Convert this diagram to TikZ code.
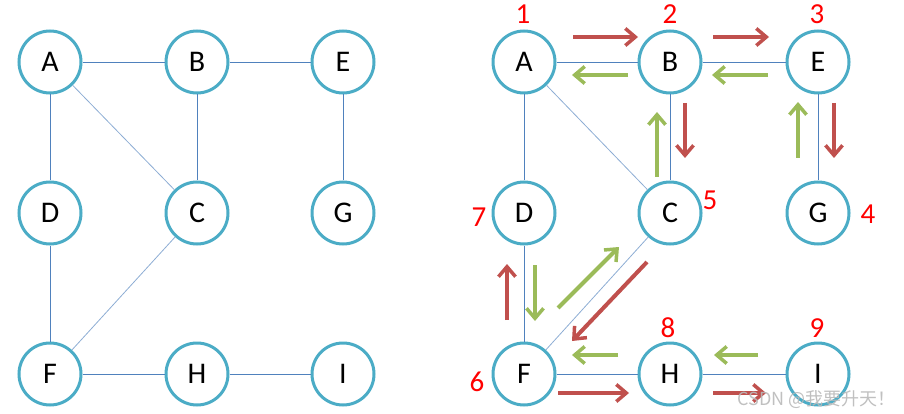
\documentclass[tikz,border=0pt]{standalone}
\usepackage{fontspec}
\setmainfont{Carlito}
\newfontfamily\cjkfont{Noto Sans CJK SC}
\usetikzlibrary{arrows.meta}
\definecolor{ring}{HTML}{4BACC6}
\definecolor{edgec}{HTML}{4F81BD}
\definecolor{redar}{HTML}{C0504D}
\definecolor{greenar}{HTML}{9BBB59}
\tikzset{
  vtx/.style={circle,draw=ring,line width=3pt,minimum size=62pt,inner sep=0pt,fill=white,font=\fontsize{30}{30}\selectfont},
  edg/.style={draw=edgec,line width=0.9pt},
  dedg/.style={draw=edgec!65,line width=0.8pt},
  fwd/.style={draw=redar,line width=4pt,-{Straight Barb[length=10pt,width=17pt,line width=3.5pt]}},
  bwd/.style={draw=greenar,line width=4pt,-{Straight Barb[length=10pt,width=17pt,line width=3.5pt]}},
  num/.style={text=red,font=\fontsize{29}{29}\selectfont,inner sep=0pt}
}
\begin{document}
\begin{tikzpicture}[x=1pt,y=-1pt]
\useasboundingbox (0,0) rectangle (904,414);
% left graph
\node[vtx] (lA) at (50,62) {A};
\node[vtx] (lB) at (197,62) {B};
\node[vtx] (lE) at (343,62) {E};
\node[vtx] (lD) at (50,213) {D};
\node[vtx] (lC) at (197,213) {C};
\node[vtx] (lG) at (343,213) {G};
\node[vtx] (lF) at (50,374) {F};
\node[vtx] (lH) at (197,374) {H};
\node[vtx] (lI) at (343,374) {I};
\draw[edg] (lA) -- (lB);
\draw[edg] (lB) -- (lE);
\draw[edg] (lA) -- (lD);
\draw[dedg] (lA) -- (lC);
\draw[edg] (lB) -- (lC);
\draw[edg] (lE) -- (lG);
\draw[edg] (lD) -- (lF);
\draw[dedg] (lF) -- (lC);
\draw[edg] (lF) -- (lH);
\draw[edg] (lH) -- (lI);
% right graph
\node[vtx] (rA) at (524,62) {A};
\node[vtx] (rB) at (670,62) {B};
\node[vtx] (rE) at (818,62) {E};
\node[vtx] (rD) at (524,213) {D};
\node[vtx] (rC) at (670,213) {C};
\node[vtx] (rG) at (818,213) {G};
\node[vtx] (rF) at (524,374) {F};
\node[vtx] (rH) at (670,374) {H};
\node[vtx] (rI) at (818,374) {I};
\draw[edg] (rA) -- (rB);
\draw[edg] (rB) -- (rE);
\draw[edg] (rA) -- (rD);
\draw[dedg] (rA) -- (rC);
\draw[edg] (rB) -- (rC);
\draw[edg] (rE) -- (rG);
\draw[edg] (rD) -- (rF);
\draw[dedg] (rF) -- (rC);
\draw[edg] (rF) -- (rH);
\draw[edg] (rH) -- (rI);
% order numbers
\node[num] (n1) at (523,14) {1};
\node[num] (n2) at (670,14) {2};
\node[num] (n3) at (817,14) {3};
\node[num] (n4) at (868,214) {4};
\node[num] (n5) at (710,200) {5};
\node[num] (n6) at (477,382) {6};
\node[num] (n7) at (479,217) {7};
\node[num] (n8) at (668,328) {8};
\node[num] (n9) at (817,328) {9};
% traversal arrows
\coordinate (a1s) at (573,37); \coordinate (a1e) at (638,37);
\coordinate (a2s) at (713,37); \coordinate (a2e) at (769,37);
\coordinate (a3s) at (834,103); \coordinate (a3e) at (834,158);
\coordinate (a4s) at (798,158); \coordinate (a4e) at (798,102);
\coordinate (a5s) at (768,75); \coordinate (a5e) at (712,75);
\coordinate (a6s) at (685,103); \coordinate (a6e) at (685,158);
\coordinate (a7s) at (647,262); \coordinate (a7e) at (572,341);
\coordinate (a8s) at (507,320); \coordinate (a8e) at (507,264);
\coordinate (a9s) at (535,265); \coordinate (a9e) at (535,321);
\coordinate (a10s) at (558,393); \coordinate (a10e) at (629,393);
\coordinate (a11s) at (713,393); \coordinate (a11e) at (766,393);
\coordinate (a12s) at (758,355); \coordinate (a12e) at (714,355);
\coordinate (a13s) at (618,355); \coordinate (a13e) at (572,355);
\coordinate (a14s) at (558,308); \coordinate (a14e) at (619,247);
\coordinate (a15s) at (657,177); \coordinate (a15e) at (657,112);
\coordinate (a16s) at (628,75); \coordinate (a16e) at (572,75);
\draw[fwd] (a1s) -- (a1e);
\draw[fwd] (a2s) -- (a2e);
\draw[fwd] (a3s) -- (a3e);
\draw[bwd] (a4s) -- (a4e);
\draw[bwd] (a5s) -- (a5e);
\draw[fwd] (a6s) -- (a6e);
\draw[fwd] (a7s) -- (a7e);
\draw[fwd] (a8s) -- (a8e);
\draw[bwd] (a9s) -- (a9e);
\draw[fwd] (a10s) -- (a10e);
\draw[fwd] (a11s) -- (a11e);
\draw[bwd] (a12s) -- (a12e);
\draw[bwd] (a13s) -- (a13e);
\draw[bwd] (a14s) -- (a14e);
\draw[bwd] (a15s) -- (a15e);
\draw[bwd] (a16s) -- (a16e);
% watermark
\node[text=gray!55,opacity=0.9,font=\cjkfont\fontsize{18}{18}\selectfont,anchor=east,inner sep=0pt] (wm) at (896,400) {CSDN @我要升天！};
\end{tikzpicture}
\end{document}
